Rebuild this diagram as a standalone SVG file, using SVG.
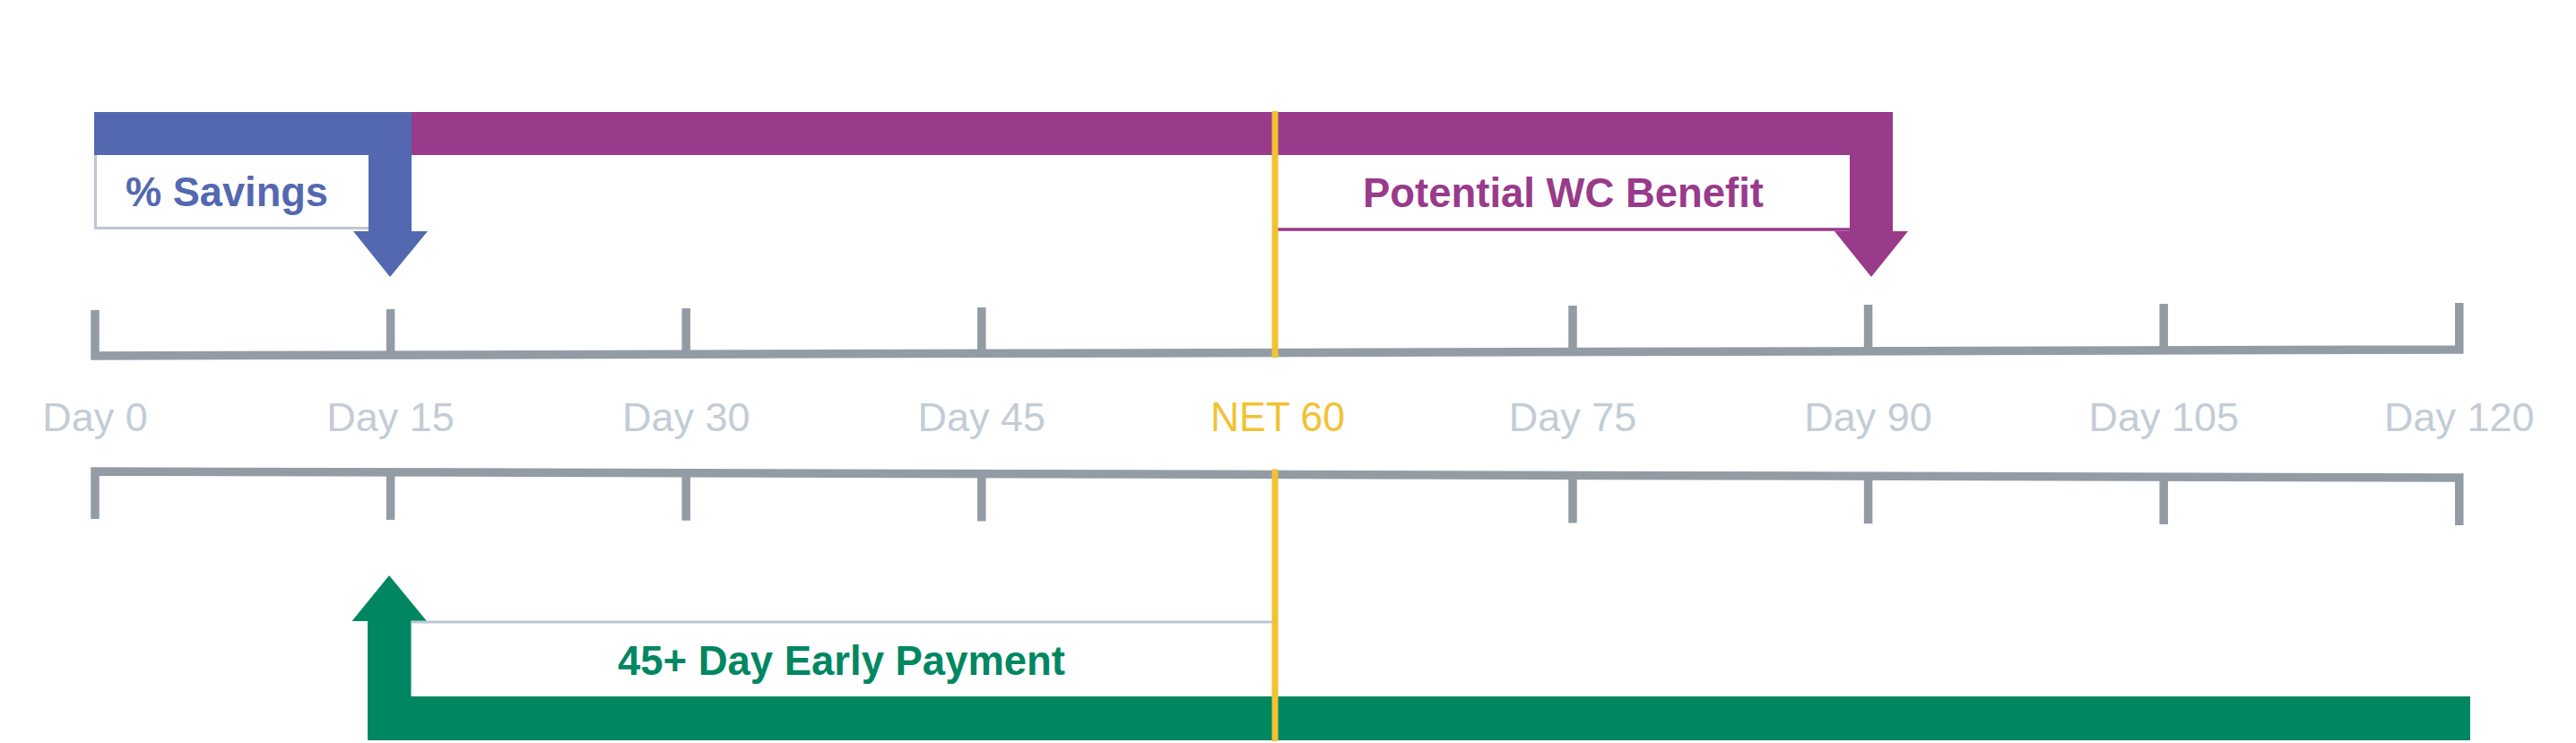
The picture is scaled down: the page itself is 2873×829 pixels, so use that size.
<svg xmlns="http://www.w3.org/2000/svg" width="2873" height="829" viewBox="0 0 2873 829">
  <style>
    .axis { fill: none; stroke: #939ca5; stroke-width: 9.5; stroke-linejoin: miter; stroke-linecap: butt; }
    .day { font-family: "Liberation Sans", Arial, Helvetica, sans-serif; font-size: 45px; fill: #c3ccd6; text-anchor: middle; }
    .lbl { font-family: "Liberation Sans", Arial, Helvetica, sans-serif; font-size: 46px; font-weight: bold; text-anchor: middle; }
    .box { fill: #ffffff; }
    .edge { fill: none; stroke: #bdc7d2; stroke-width: 3; }
    .net { fill: none; stroke: #f2c232; stroke-width: 7; }
  </style>
  <rect width="2873" height="829" fill="#ffffff"/>

  <g id="axis-top">
    <path class="axis" d="M106,346 V397 L2742.8,390 V338"/>
    <path class="axis" d="M435.6,345 V396.1 M765.2,344 V395.25 M1094.8,343 V394.4 M1754,341 V392.6 M2083.6,340 V391.75 M2413.2,339 V390.9"/>
  </g>

  <g id="axis-bottom">
    <path class="axis" d="M106,579 V526 L2742.8,533 V586"/>
    <path class="axis" d="M435.6,526.9 V579.9 M765.2,527.75 V580.75 M1094.8,528.6 V581.6 M1754,530.4 V583.4 M2083.6,531.25 V584.25 M2413.2,532.1 V585.1"/>
  </g>

  <g id="day-labels">
    <text class="day" x="106" y="481">Day 0</text>
    <text class="day" x="435.6" y="481">Day 15</text>
    <text class="day" x="765.2" y="481">Day 30</text>
    <text class="day" x="1094.8" y="481">Day 45</text>
    <text class="day" x="1754" y="481">Day 75</text>
    <text class="day" x="2083.6" y="481">Day 90</text>
    <text class="day" x="2413.2" y="481">Day 105</text>
    <text class="day" x="2742.8" y="481">Day 120</text>
  </g>

  <g id="savings">
    <rect class="box" x="106.5" y="173" width="304.5" height="81"/>
    <path class="edge" d="M106.5,173 V254.5 H411"/>
    <path d="M105,125 H459 V258 H477 L435,309 L394,258 H411 V173 H105 Z" fill="#5468b1"/>
    <text class="lbl" x="253" y="230" fill="#5468b1" textLength="226" lengthAdjust="spacingAndGlyphs">% Savings</text>
  </g>

  <g id="wc-benefit">
    <path d="M459,125 H2111 V258 H2128 L2087,309 L2046,258 H2063 V173 H459 Z" fill="#993a8b"/>
    <path d="M1422,256 H2063" fill="none" stroke="#993a8b" stroke-width="3.5"/>
    <text class="lbl" x="1743.5" y="231" fill="#993a8b" textLength="447" lengthAdjust="spacingAndGlyphs">Potential WC Benefit</text>
  </g>

  <g id="early-payment">
    <path d="M410,826 V693 H392.5 L434,642 L476,693 H458.5 V777 H2755 V826 Z" fill="#008762"/>
    <path class="edge" d="M458.5,694 H1422"/>
    <text class="lbl" x="938.5" y="753" fill="#008762" textLength="499" lengthAdjust="spacingAndGlyphs">45+ Day Early Payment</text>
  </g>

  <g id="connectors">
    <path class="net" d="M1422,124 V399 M1422,523.5 V827"/>
  </g>

  <g id="net60">
    <text class="lbl" x="1425" y="481" fill="#f2c232" style="font-weight:normal" font-size="45" textLength="150" lengthAdjust="spacingAndGlyphs">NET 60</text>
  </g>
</svg>
